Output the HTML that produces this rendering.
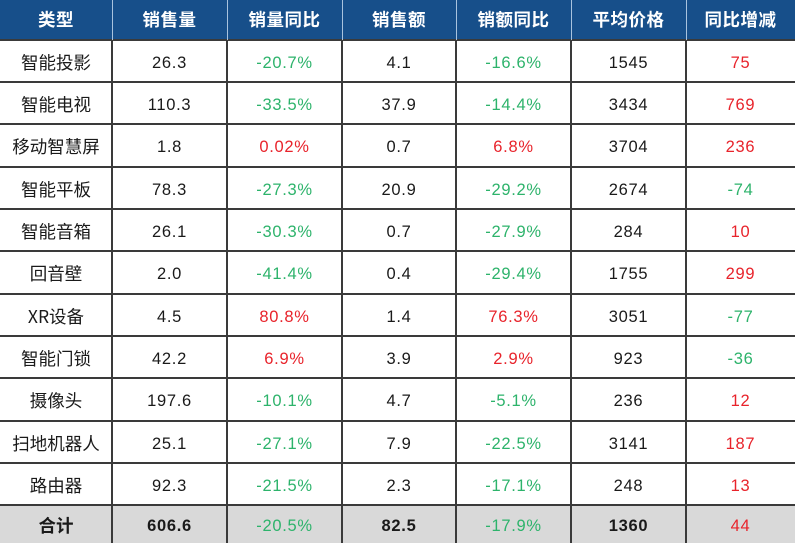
<!DOCTYPE html>
<html><head><meta charset="utf-8">
<style>
html,body{margin:0;padding:0;background:#fff;}
#c{position:relative;width:795px;height:543px;overflow:hidden;background:#fff;font-family:"Liberation Sans","Noto Sans CJK SC",sans-serif;}
.row{position:absolute;left:0;width:795px;height:42px;}
.cell{position:absolute;top:0;height:100%;display:flex;align-items:center;justify-content:center;font-size:16.5px;line-height:1;color:#1a1a1a;letter-spacing:0.7px;padding-top:5px;box-sizing:border-box;}
.c0{font-family:"Noto Sans CJK SC",sans-serif;font-size:17.5px;letter-spacing:0;padding-top:4px;}
.hd{background:#174f8a;height:40px;top:0;}
.hd .cell{color:#fff;font-weight:bold;font-size:17.5px;letter-spacing:0.5px;padding-top:0;font-family:"Noto Sans CJK SC",sans-serif;}
.tot{background:#d9d9d9;}
.g{color:#2db36b;}
.r{color:#e8232b;}
.b{font-weight:bold;}
.hl{position:absolute;left:0;width:795px;height:2px;background:#3a3a3a;}
.vl{position:absolute;top:40px;width:2px;height:503px;background:#3a3a3a;}
.hvl{position:absolute;top:0;width:1px;height:40px;background:#a9c3de;}
.c0{left:0;width:112px}.c1{left:112px;width:115px}.c2{left:227px;width:115px}.c3{left:342px;width:114px}.c4{left:456px;width:115px}.c5{left:571px;width:115px}.c6{left:686px;width:109px}
</style></head><body>
<div id="c">
<div class="row hd">
<div class="cell c0">类型</div><div class="cell c1">销售量</div><div class="cell c2">销量同比</div><div class="cell c3">销售额</div><div class="cell c4">销额同比</div><div class="cell c5">平均价格</div><div class="cell c6">同比增减</div>
</div>

<div class="row" style="top:40px"><div class="cell c0">智能投影</div><div class="cell c1">26.3</div><div class="cell c2 g">-20.7%</div><div class="cell c3">4.1</div><div class="cell c4 g">-16.6%</div><div class="cell c5">1545</div><div class="cell c6 r">75</div></div>
<div class="row" style="top:82px"><div class="cell c0">智能电视</div><div class="cell c1">110.3</div><div class="cell c2 g">-33.5%</div><div class="cell c3">37.9</div><div class="cell c4 g">-14.4%</div><div class="cell c5">3434</div><div class="cell c6 r">769</div></div>
<div class="row" style="top:124px"><div class="cell c0">移动智慧屏</div><div class="cell c1">1.8</div><div class="cell c2 r">0.02%</div><div class="cell c3">0.7</div><div class="cell c4 r">6.8%</div><div class="cell c5">3704</div><div class="cell c6 r">236</div></div>
<div class="row" style="top:167px"><div class="cell c0">智能平板</div><div class="cell c1">78.3</div><div class="cell c2 g">-27.3%</div><div class="cell c3">20.9</div><div class="cell c4 g">-29.2%</div><div class="cell c5">2674</div><div class="cell c6 g">-74</div></div>
<div class="row" style="top:209px"><div class="cell c0">智能音箱</div><div class="cell c1">26.1</div><div class="cell c2 g">-30.3%</div><div class="cell c3">0.7</div><div class="cell c4 g">-27.9%</div><div class="cell c5">284</div><div class="cell c6 r">10</div></div>
<div class="row" style="top:251px"><div class="cell c0">回音壁</div><div class="cell c1">2.0</div><div class="cell c2 g">-41.4%</div><div class="cell c3">0.4</div><div class="cell c4 g">-29.4%</div><div class="cell c5">1755</div><div class="cell c6 r">299</div></div>
<div class="row" style="top:294px"><div class="cell c0">XR设备</div><div class="cell c1">4.5</div><div class="cell c2 r">80.8%</div><div class="cell c3">1.4</div><div class="cell c4 r">76.3%</div><div class="cell c5">3051</div><div class="cell c6 g">-77</div></div>
<div class="row" style="top:336px"><div class="cell c0">智能门锁</div><div class="cell c1">42.2</div><div class="cell c2 r">6.9%</div><div class="cell c3">3.9</div><div class="cell c4 r">2.9%</div><div class="cell c5">923</div><div class="cell c6 g">-36</div></div>
<div class="row" style="top:378px"><div class="cell c0">摄像头</div><div class="cell c1">197.6</div><div class="cell c2 g">-10.1%</div><div class="cell c3">4.7</div><div class="cell c4 g">-5.1%</div><div class="cell c5">236</div><div class="cell c6 r">12</div></div>
<div class="row" style="top:421px"><div class="cell c0">扫地机器人</div><div class="cell c1">25.1</div><div class="cell c2 g">-27.1%</div><div class="cell c3">7.9</div><div class="cell c4 g">-22.5%</div><div class="cell c5">3141</div><div class="cell c6 r">187</div></div>
<div class="row" style="top:463px"><div class="cell c0">路由器</div><div class="cell c1">92.3</div><div class="cell c2 g">-21.5%</div><div class="cell c3">2.3</div><div class="cell c4 g">-17.1%</div><div class="cell c5">248</div><div class="cell c6 r">13</div></div>
<div class="row tot" style="top:505px;height:38px"><div class="cell c0 b">合计</div><div class="cell c1 b">606.6</div><div class="cell c2 g">-20.5%</div><div class="cell c3 b">82.5</div><div class="cell c4 g">-17.9%</div><div class="cell c5 b">1360</div><div class="cell c6 r">44</div></div>

<div class="hl" style="top:39px"></div>
<div class="hl" style="top:81px"></div>
<div class="hl" style="top:123px"></div>
<div class="hl" style="top:166px"></div>
<div class="hl" style="top:208px"></div>
<div class="hl" style="top:250px"></div>
<div class="hl" style="top:293px"></div>
<div class="hl" style="top:335px"></div>
<div class="hl" style="top:377px"></div>
<div class="hl" style="top:420px"></div>
<div class="hl" style="top:462px"></div>
<div class="hl" style="top:504px"></div>

<div class="vl" style="left:111px"></div>
<div class="vl" style="left:226px"></div>
<div class="vl" style="left:341px"></div>
<div class="vl" style="left:455px"></div>
<div class="vl" style="left:570px"></div>
<div class="vl" style="left:685px"></div>

<div class="hvl" style="left:112px"></div>
<div class="hvl" style="left:227px"></div>
<div class="hvl" style="left:342px"></div>
<div class="hvl" style="left:456px"></div>
<div class="hvl" style="left:571px"></div>
<div class="hvl" style="left:686px"></div>
</div>
</body></html>
